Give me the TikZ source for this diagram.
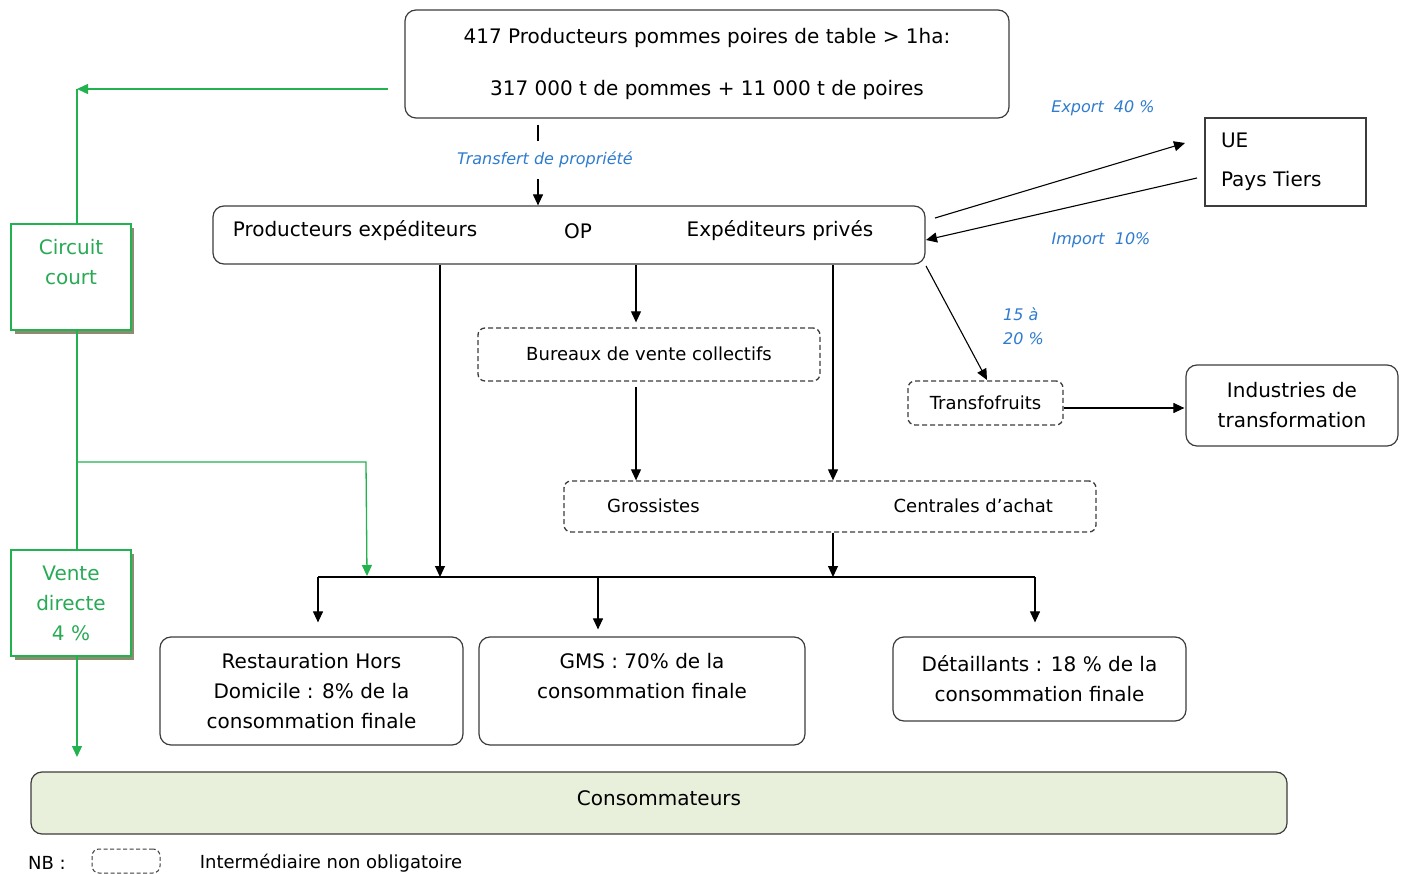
\documentclass[tikz,border=0pt]{standalone}
\usepackage{fontspec}
\setmainfont{DejaVu Sans}
\usetikzlibrary{arrows.meta}
\definecolor{boxgray}{RGB}{60,60,60}
\definecolor{gline}{RGB}{34,178,80}
\definecolor{gtext}{RGB}{40,170,85}
\definecolor{gshadow}{RGB}{140,140,112}
\definecolor{lblue}{RGB}{46,123,207}
\definecolor{consfill}{RGB}{232,240,220}
\newcommand{\mainf}{\fontsize{20}{30}\selectfont}
\newcommand{\secf}{\fontsize{18}{26}\selectfont}
\newcommand{\labf}{\fontsize{16}{24}\selectfont\itshape}
\tikzset{
  box/.style={draw=boxgray, line width=1.2pt, rounded corners=11pt, inner sep=0pt, align=center, font=\mainf},
  dbox/.style={draw=boxgray, line width=1.3pt, dash pattern=on 5pt off 3pt, rounded corners=7pt, inner sep=0pt, align=center, font=\secf},
  gbox/.style={draw=gline, line width=2pt, fill=white, inner sep=0pt, align=center, font=\mainf, text=gtext, minimum width=120pt, minimum height=106pt},
  lab/.style={text=lblue, font=\labf, inner sep=0pt, align=left},
  txt/.style={font=\mainf, inner sep=0pt},
  line/.style={draw=black, line width=1.1pt},
  arr/.style={line, -{Triangle[length=11pt,width=10pt]}},
  gln/.style={draw=gline, line width=1.3pt},
  garr/.style={gln, -{Triangle[length=11pt,width=10pt]}},
}
\begin{document}
\begin{tikzpicture}[x=1pt,y=-1pt]
\useasboundingbox (0,0) rectangle (1403,874);
\fill[white] (0,0) rectangle (1403,874);

% main boxes
\node[box, minimum width=604pt, minimum height=108pt] (top) at (707,64)
  {417 Producteurs pommes poires de table > 1ha:\\[22pt]317 000 t de pommes + 11 000 t de poires};
\node[box, minimum width=712pt, minimum height=58pt] (prod) at (569,235) {};
\node[txt] (pe) at (355,231) {Producteurs expéditeurs};
\node[txt] (op) at (578,231) {OP};
\node[txt] (ep) at (780,231) {Expéditeurs privés};

\node[draw=boxgray, line width=1.2pt, minimum width=161pt, minimum height=88pt, text width=129pt, inner xsep=16pt, inner ysep=0pt, align=left, font=\mainf] (ue) at (1285.5,162) {UE\\[9pt]Pays Tiers};

\node[dbox, minimum width=155pt, minimum height=44pt] (tra) at (985.5,403) {Transfofruits};
\node[box, minimum width=212pt, minimum height=81pt] (ind) at (1292,405.5) {Industries de\\transformation};
\node[dbox, minimum width=342pt, minimum height=53pt] (bur) at (649,354.5) {\raisebox{2pt}{Bureaux de vente collectifs}};
\node[dbox, minimum width=532pt, minimum height=51pt] (gro) at (830,506.5) {\raisebox{2pt}{Grossistes\hspace{194pt}Centrales d’achat}};

\node[box, minimum width=303pt, minimum height=108pt] (rhd) at (311.5,691) {Restauration Hors\\Domicile : 8\% de la\\consommation finale};
\node[box, minimum width=326pt, minimum height=108pt] (gms) at (642,691) {GMS : 70\% de la\\consommation finale\\\mbox{}};
\node[box, minimum width=293pt, minimum height=84pt] (det) at (1039.5,679) {Détaillants : 18 \% de la\\consommation finale};
\node[box, fill=consfill, minimum width=1256pt, minimum height=62pt] (cons) at (659,803) {\raisebox{9pt}{Consommateurs}};

% green boxes with shadows
\fill[gshadow] (15,228) rectangle (134,334);
\fill[gshadow] (15,554) rectangle (134,660);
\node[gbox] (cc) at (71,277) {Circuit\\court\\\mbox{}};
\node[gbox] (vd) at (71,603) {Vente\\directe\\4 \%};

% legend
\node[font=\secf, inner sep=0pt] (nb) at (47,863) {NB :};
\node[dbox, line width=1pt, dash pattern=on 4pt off 2.5pt, minimum width=68pt, minimum height=24pt] (nbbox) at (126,861) {};
\node[font=\secf, inner sep=0pt] (nbt) at (331,863) {Intermédiaire non obligatoire};

% labels
\node[lab] (ltr) at (545,160) {Transfert de propriété};
\node[lab] (lex) at (1103,108) {Export~~40 \%};
\node[lab] (lim) at (1101,240) {Import~~10\%};
\node[lab, anchor=west] (l15) at (1003,326) {15 à\\20 \%};

% coordinates
\coordinate (xA) at (538,0);
\coordinate (x440) at (440,0);
\coordinate (x636) at (636,0);
\coordinate (x833) at (833,0);
\coordinate (bL) at (318,577);
\coordinate (bR) at (1035,577);
\coordinate (bG) at (598,577);
\coordinate (exS) at (935,218);
\coordinate (exE) at (1185,143);
\coordinate (imS) at (1197,178);
\coordinate (imE) at (926,240);
\coordinate (trS) at (926,266);
\coordinate (trE) at (987,380);
\coordinate (gS) at (388,89);
\coordinate (gT) at (77,89);
\coordinate (gB) at (77,757);
\coordinate (gBr) at (77,462);
\coordinate (gE) at (367,576);

% black connectors
\draw[line] ([yshift=-6pt]top.south -| xA) -- ++(0,16);
\draw[arr] ([yshift=26pt]prod.north -| xA) -- (prod.north -| xA);
\draw[arr] (prod.south -| x440) -- (bL -| x440);
\draw[arr, shorten >=5pt] (prod.south -| x636) -- (bur.north -| x636);
\draw[arr] (prod.south -| x833) -- (gro.north -| x833);
\draw[arr, shorten <=5pt] (bur.south -| x636) -- (gro.north -| x636);
\draw[arr] (gro.south -| x833) -- (bL -| x833);
\draw[line] (bL) -- (bR);
\draw[arr, shorten >=14pt] (bL) -- (rhd.north -| bL);
\draw[arr, shorten >=7pt] (bG) -- (gms.north -| bG);
\draw[arr, shorten >=14pt] (bR) -- (det.north -| bR);
\draw[arr] (exS) -- (exE);
\draw[arr] (imS) -- (imE);
\draw[arr] (trS) -- (trE);
\draw[arr, shorten >=1pt] ([yshift=-5pt]tra.east) -- ([yshift=-5pt]tra.east -| ind.west);

% green connectors
\draw[garr] (gS) -- (gT);
\draw[gln] (gT) -- (cc.north -| gT);
\draw[gln] (cc.south -| gT) -- (vd.north -| gT);
\draw[garr] (vd.south -| gT) -- (gB);
\draw[garr] (gBr) -- (366,462) -- (gE);
\end{tikzpicture}
\end{document}
